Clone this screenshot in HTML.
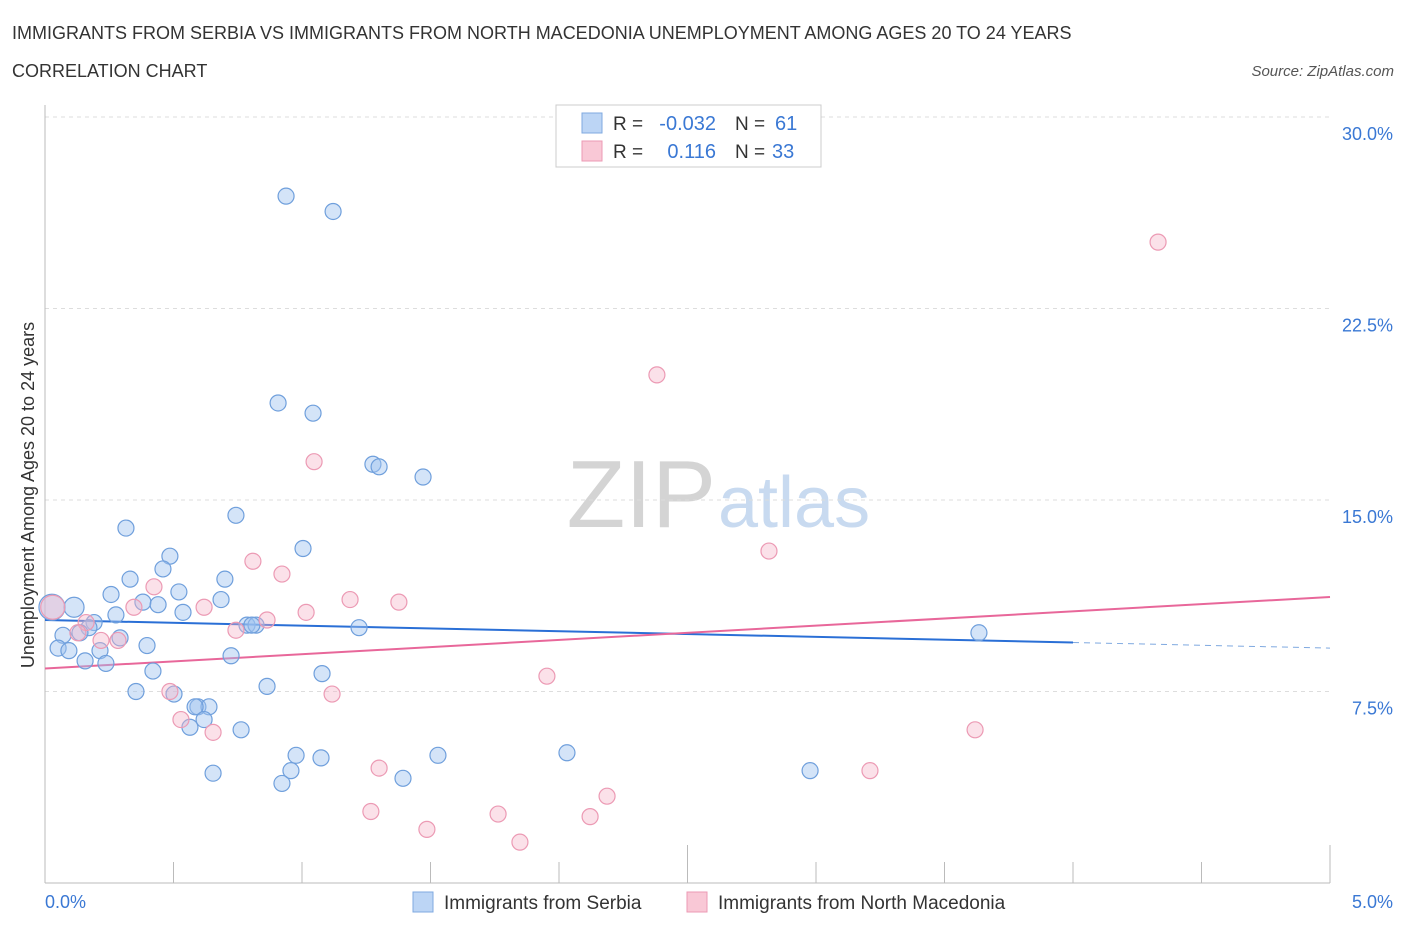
<!DOCTYPE html>
<html><head><meta charset="utf-8"><style>
body{margin:0;background:#fff;font-family:"Liberation Sans",sans-serif;}
svg text{font-family:"Liberation Sans",sans-serif;}
</style></head><body>
<svg id="chart" width="1406" height="930" xmlns="http://www.w3.org/2000/svg">
<text x="12" y="39" font-size="18" fill="#333">IMMIGRANTS FROM SERBIA VS IMMIGRANTS FROM NORTH MACEDONIA UNEMPLOYMENT AMONG AGES 20 TO 24 YEARS</text>
<text x="12" y="77" font-size="18" fill="#333">CORRELATION CHART</text>
<text x="1394" y="76" font-size="15" fill="#555" font-style="italic" text-anchor="end">Source: ZipAtlas.com</text>
<text x="716" y="527" font-size="96" text-anchor="end" fill="#d4d4d4" font-family="Liberation Serif">ZIP</text>
<text x="718" y="527" font-size="72" fill="#c8daf0">atlas</text>
<g id="grid"></g><g id="axes"></g><g id="trend"></g><g id="pts"></g>
<text transform="translate(34,495) rotate(-90)" font-size="18" fill="#333" text-anchor="middle">Unemployment Among Ages 20 to 24 years</text>
<text x="45" y="908" font-size="18" fill="#3a78d4">0.0%</text>
<text x="1393" y="908" font-size="18" fill="#3a78d4" text-anchor="end">5.0%</text>
<g>
<rect x="556" y="105" width="265" height="62" fill="#fff" stroke="#ccc"/>
<rect x="582" y="113" width="20" height="20" fill="#bcd5f5" stroke="#7fa9e0"/>
<rect x="582" y="141" width="20" height="20" fill="#f9c8d6" stroke="#ec9ab4"/>
<text x="613" y="130" font-size="19" fill="#333">R =</text>
<text x="716" y="130" font-size="20" fill="#3a78d4" text-anchor="end">-0.032</text>
<text x="735" y="130" font-size="19" fill="#333">N =</text>
<text x="775" y="130" font-size="20" fill="#3a78d4">61</text>
<text x="613" y="158" font-size="19" fill="#333">R =</text>
<text x="716" y="158" font-size="20" fill="#3a78d4" text-anchor="end">0.116</text>
<text x="735" y="158" font-size="19" fill="#333">N =</text>
<text x="772" y="158" font-size="20" fill="#3a78d4">33</text>
</g>
<g>
<rect x="413" y="892" width="20" height="20" fill="#bcd5f5" stroke="#7fa9e0"/>
<text x="444" y="909" font-size="19" fill="#333">Immigrants from Serbia</text>
<rect x="687" y="892" width="20" height="20" fill="#f9c8d6" stroke="#ec9ab4"/>
<text x="718" y="909" font-size="19" fill="#333">Immigrants from North Macedonia</text>
</g>
</svg>
<script>
const yTicks=[7.5,15,22.5,30];
const yTickLabels=["7.5%","15.0%","22.5%","30.0%"];
const xTicks=[0,0.5,1,1.5,2,2.5,3,3.5,4,4.5,5];
const serbiaX=[0.938,1.121,0.907,1.043,1.276,1.300,1.471,0.743,0.315,1.004,0.486,0.459,0.700,0.331,0.257,0.521,0.381,0.440,0.685,0.113,0.027,0.537,0.276,0.191,0.171,0.786,0.821,0.805,1.222,0.070,0.292,0.136,0.397,0.051,0.093,0.214,0.724,0.156,0.237,1.078,0.420,0.864,0.354,0.502,0.595,0.638,0.584,0.619,0.564,0.763,0.977,1.074,2.031,1.529,0.654,0.957,1.393,0.922,2.977,3.634];
const serbiaY=[26.9,26.3,18.8,18.4,16.4,16.3,15.9,14.4,13.9,13.1,12.8,12.3,11.9,11.9,11.3,11.4,11.0,10.9,11.1,10.8,10.8,10.6,10.5,10.2,10.0,10.1,10.1,10.1,10.0,9.7,9.6,9.8,9.3,9.2,9.1,9.1,8.9,8.7,8.6,8.2,8.3,7.7,7.5,7.4,6.9,6.9,6.9,6.4,6.1,6.0,5.0,4.9,5.1,5.0,4.3,4.4,4.1,3.9,4.4,9.8];
const serbiaBig=[20];
const serbiaMid=[19];
const macX=[4.331,2.381,1.047,2.817,0.809,0.922,0.424,1.187,1.377,0.346,0.619,1.016,0.864,0.160,0.743,0.128,0.218,0.284,1.953,0.486,1.117,0.529,0.654,3.619,1.300,3.210,2.187,1.268,1.763,2.121,1.486,1.848,0.03];
const macY=[25.1,19.9,16.5,13.0,12.6,12.1,11.6,11.1,11.0,10.8,10.8,10.6,10.3,10.2,9.9,9.8,9.5,9.5,8.1,7.5,7.4,6.4,5.9,6.0,4.5,4.4,3.4,2.8,2.7,2.6,2.1,1.6,10.8];
const serbiaTrend=[10.3,9.42,9.2];
const macTrend=[8.4,11.2];
const X=v=>45+v/5*1285, Y=v=>883-v/7.5*191.5;
const NS="http://www.w3.org/2000/svg";
function mk(parent,tag,attrs){const e=document.createElementNS(NS,tag);for(const k in attrs)e.setAttribute(k,attrs[k]);document.getElementById(parent).appendChild(e);return e;}
yTicks.forEach((t,i)=>{
 const l=mk('grid','line',{x1:45,x2:1330,y1:Y(t),y2:Y(t),stroke:'#ddd','stroke-dasharray':'4,4'});
 
 
 const tx=mk('grid','text',{x:1393,y:Y(t)+23,'font-size':18,fill:'#3a78d4','text-anchor':'end'});
 tx.textContent=yTickLabels[i];
 
 
});
let a=mk('axes','line',{x1:45,x2:1330,y1:883,y2:883,stroke:'#bbb'});


a=mk('axes','line',{x1:45,x2:45,y1:105,y2:883,stroke:'#bbb'});


xTicks.forEach(t=>{const l=mk('axes','line',{x1:X(t),x2:X(t),y1:883,y2:t%2.5===0&&t>0?845:862,stroke:'#bbb'});
 
 });
let tl=mk('trend','line',{x1:X(0),y1:Y(serbiaTrend[0]),x2:X(4),y2:Y(serbiaTrend[1]),stroke:'#2a6fd6','stroke-width':2});


tl=mk('trend','line',{x1:X(4),y1:Y(serbiaTrend[1]),x2:X(5),y2:Y(serbiaTrend[2]),stroke:'#7fa9e0','stroke-width':1,'stroke-dasharray':'6,5'});


tl=mk('trend','line',{x1:X(0),y1:Y(macTrend[0]),x2:X(5),y2:Y(macTrend[1]),stroke:'#e8679a','stroke-width':2});


serbiaX.forEach((x,i)=>{const c=mk('pts','circle',{cx:X(x),cy:Y(serbiaY[i]),r:serbiaBig.includes(i)?13:(serbiaMid.includes(i)?10:8),fill:'rgba(160,196,240,0.45)',stroke:'#6f9fdc','stroke-width':1.2});
 
 });
macX.forEach((x,i)=>{const c=mk('pts','circle',{cx:X(x),cy:Y(macY[i]),r:i===32?12:8,fill:'rgba(244,180,200,0.4)',stroke:'#ec9ab4','stroke-width':1.2});
 
 });
</script>
</body></html>
